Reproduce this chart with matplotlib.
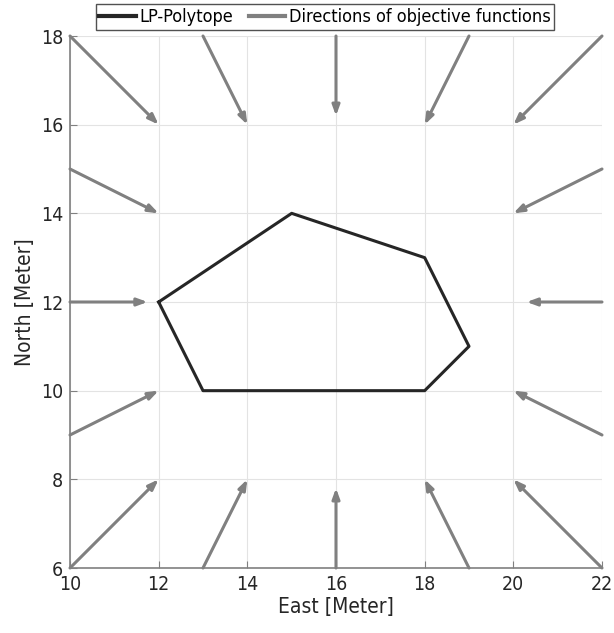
import matplotlib
matplotlib.use("Agg")
import matplotlib.pyplot as plt
from matplotlib.lines import Line2D

plt.rcParams["font.family"] = "DejaVu Sans"
plt.rcParams["font.stretch"] = "condensed"

# polytope vertices (closed)
poly_x = [12, 15, 18, 19, 18, 13, 12]
poly_y = [12, 14, 13, 11, 10, 10, 12]

# objective direction arrows: start -> end
arrow_x0 = [10, 13, 16, 19, 22, 10, 22, 10, 22, 10, 22, 10, 13, 16, 19, 22]
arrow_y0 = [18, 18, 18, 18, 18, 15, 15, 12, 12, 9, 9, 6, 6, 6, 6, 6]
arrow_x1 = [12, 14, 16, 18, 20, 12, 20, 11.75, 20.3, 12, 20, 12, 14, 16, 18, 20]
arrow_y1 = [16, 16, 16.2, 16, 16, 14, 14, 12, 12, 10, 10, 8, 8, 7.8, 8, 8]

poly_color = "#262626"
arrow_color = "#808080"

fig = plt.figure(figsize=(6.14, 6.33), dpi=100)
ax = fig.add_axes([70 / 614, 1 - 568 / 633, 532 / 614, 532 / 633])

ax.plot(poly_x, poly_y, color=poly_color, lw=2.2, zorder=3)

for x0, y0, x1, y1 in zip(arrow_x0, arrow_y0, arrow_x1, arrow_y1):
    ax.annotate("", xy=(x1, y1), xytext=(x0, y0),
                arrowprops=dict(arrowstyle="-|>,head_length=0.6,head_width=0.22",
                                color=arrow_color, lw=2.2,
                                shrinkA=0, shrinkB=0),
                annotation_clip=False, zorder=2)

ax.set_xlim(10, 22)
ax.set_ylim(6, 18)
ax.set_xticks(range(10, 23, 2))
ax.set_yticks(range(6, 19, 2))
ax.grid(True, color="#e3e3e3", lw=0.8)
ax.set_axisbelow(True)
for s in ["top", "right"]:
    ax.spines[s].set_visible(False)
for s in ["left", "bottom"]:
    ax.spines[s].set_color("#808080")
    ax.spines[s].set_linewidth(1.2)
ax.tick_params(direction="in", length=5, color="#808080", labelsize=14,
               labelcolor="#262626", pad=5)
ax.set_xlabel("East [Meter]", fontsize=15, color="#262626", labelpad=2)
ax.set_ylabel("North [Meter]", fontsize=15, color="#262626", labelpad=4)

handles = [Line2D([], [], color=poly_color, lw=3),
           Line2D([], [], color=arrow_color, lw=3)]
leg = fig.legend(handles, ["LP-Polytope", "Directions of objective functions"],
                 loc="center", bbox_to_anchor=(325 / 614, 1 - 17 / 633), ncol=2,
                 fontsize=13, frameon=True, fancybox=False, edgecolor="#262626",
                 handlelength=2.0, handletextpad=0.2, columnspacing=0.9,
                 borderpad=0.2, borderaxespad=0)
leg.get_frame().set_linewidth(1.0)

fig.savefig("out.png", dpi=100)
